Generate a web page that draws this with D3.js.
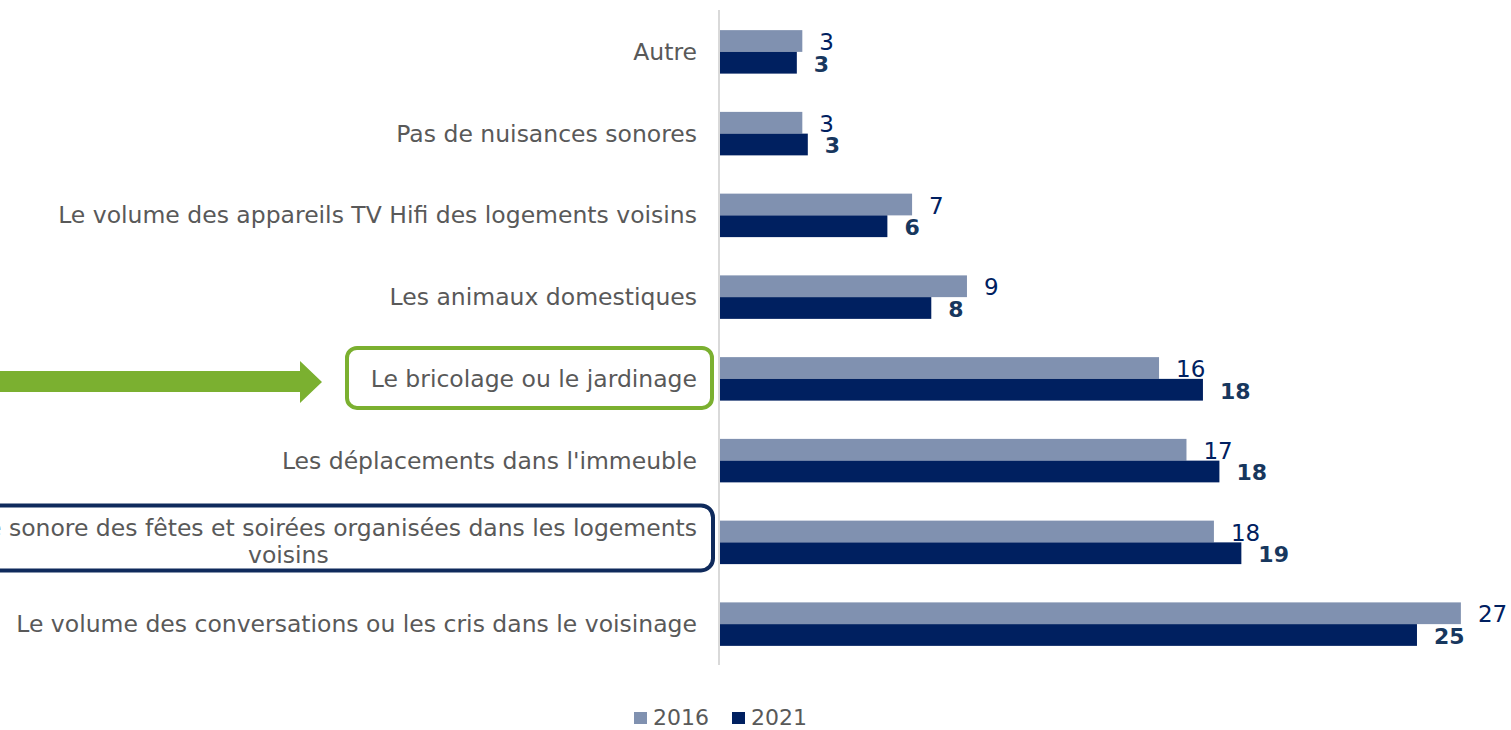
<!DOCTYPE html>
<html>
<head>
<meta charset="utf-8">
<script src="https://cdn.jsdelivr.net/npm/d3@7"></script>
<style>
  body { margin: 0; background: #fff; }
  svg { display: block; font-family: "DejaVu Sans", Verdana, sans-serif; }
</style>
</head>
<body>
<svg class="chart"></svg>
<script>
var categories = [
    "Autre",
    "Pas de nuisances sonores",
    "Le volume des appareils TV Hifi des logements voisins",
    "Les animaux domestiques",
    "Le bricolage ou le jardinage",
    "Les déplacements dans l'immeuble",
    "Le volume sonore des fêtes et soirées organisées dans les logements voisins",
    "Le volume des conversations ou les cris dans le voisinage"
];
var years = ["2016", "2021"];
var values2016 = [3.0, 3.0, 7.0, 9.0, 16.0, 17.0, 18.0, 27.0];
var values2021 = [2.8, 3.2, 6.1, 7.7, 17.6, 18.2, 19.0, 25.4];

function show() {
    'use strict';

    var width = 1511, height = 730;
    var colors = { "2016": "#8091b0", "2021": "#002060" };

    var svg = d3.select(".chart")
        .attr("width", width)
        .attr("height", height);

    var x = d3.scaleLinear().domain([0, 28]).range([720, 720 + 28 * 27.44]);
    var y0 = d3.scaleBand().domain(categories).range([11, 665]);
    var y1 = d3.scaleBand().domain(years).range([0, y0.bandwidth()]).paddingOuter(0.88);

    var rows = categories.map(function(c, i) {
        return { cat: c, vals: [
            { year: "2016", value: values2016[i] },
            { year: "2021", value: values2021[i] }
        ]};
    });

    // bars
    var groups = svg.selectAll("g.row").data(rows).enter().append("g")
        .attr("class", "row")
        .attr("transform", function(d) { return "translate(0," + y0(d.cat) + ")"; });

    groups.selectAll("rect").data(function(d) { return d.vals; }).enter().append("rect")
        .attr("x", x(0))
        .attr("y", function(d) { return y1(d.year); })
        .attr("width", function(d) { return x(d.value) - x(0); })
        .attr("height", y1.bandwidth())
        .attr("fill", function(d) { return colors[d.year]; });

    groups.selectAll("text.val").data(function(d) { return d.vals; }).enter().append("text")
        .attr("class", "val")
        .attr("x", function(d) { return x(d.value) + 17; })
        .attr("y", function(d) { return y1(d.year) + y1.bandwidth() / 2 + 9; })
        .attr("font-size", function(d) { return d.year === "2021" ? 22 : 23; })
        .attr("font-weight", function(d) { return d.year === "2021" ? "bold" : "normal"; })
        .attr("fill", function(d) { return d.year === "2021" ? "#17375e" : "#002060"; })
        .text(function(d) { return d3.format(".0f")(d.value); });

    // axis line
    svg.append("line")
        .attr("x1", 719).attr("x2", 719)
        .attr("y1", 10).attr("y2", 665)
        .attr("stroke", "#d9d9d9").attr("stroke-width", 2);

    // category labels (long one wrapped on two lines, centred)
    var labelX = 697;
    groups.each(function(d) {
        var g = d3.select(this);
        var cy = y0.bandwidth() / 2;
        var lines = d.cat.indexOf("fêtes") >= 0
            ? ["Le volume sonore des fêtes et soirées organisées dans les logements", "voisins"]
            : [d.cat];
        var t = g.append("text")
            .attr("font-size", 23.5)
            .attr("fill", "#595959");
        if (lines.length === 1) {
            t.attr("x", labelX).attr("y", cy + 8).attr("text-anchor", "end").text(lines[0]);
        } else {
            var first = t.append("tspan").text(lines[0]);
            var w = first.node().getComputedTextLength();
            var mid = labelX - w / 2;
            first.attr("x", mid).attr("y", cy - 6);
            t.attr("text-anchor", "middle");
            t.append("tspan").attr("x", mid).attr("y", cy + 21).text(lines[1]);
        }
    });

    // highlight boxes and arrow
    var cBrico = y0(categories[4]) + y0.bandwidth() / 2;
    var cFetes = y0(categories[6]) + y0.bandwidth() / 2;

    svg.append("rect")
        .attr("x", 347).attr("y", cBrico - 31)
        .attr("width", 365).attr("height", 60)
        .attr("rx", 10)
        .attr("fill", "none").attr("stroke", "#7bb030").attr("stroke-width", 4);

    svg.append("path")
        .attr("d", d3.line()([
            [0, cBrico - 8], [300, cBrico - 8], [300, cBrico - 18], [322, cBrico + 3],
            [300, cBrico + 24], [300, cBrico + 13], [0, cBrico + 13]
        ]) + "Z")
        .attr("fill", "#7bb030");

    svg.append("rect")
        .attr("x", -20).attr("y", cFetes - 37)
        .attr("width", 733).attr("height", 65)
        .attr("rx", 12)
        .attr("fill", "none").attr("stroke", "#0f2a5c").attr("stroke-width", 4);

    // legend
    var legend = svg.append("g").attr("class", "legend");
    var legX = [634, 732];
    years.forEach(function(yr, i) {
        legend.append("rect")
            .attr("x", legX[i]).attr("y", 712)
            .attr("width", 13).attr("height", 12)
            .attr("fill", colors[yr]);
        legend.append("text")
            .attr("x", legX[i] + 19).attr("y", 725)
            .attr("font-size", 22)
            .attr("fill", "#595959")
            .text(yr);
    });
}

show();
</script>
</body>
</html>
